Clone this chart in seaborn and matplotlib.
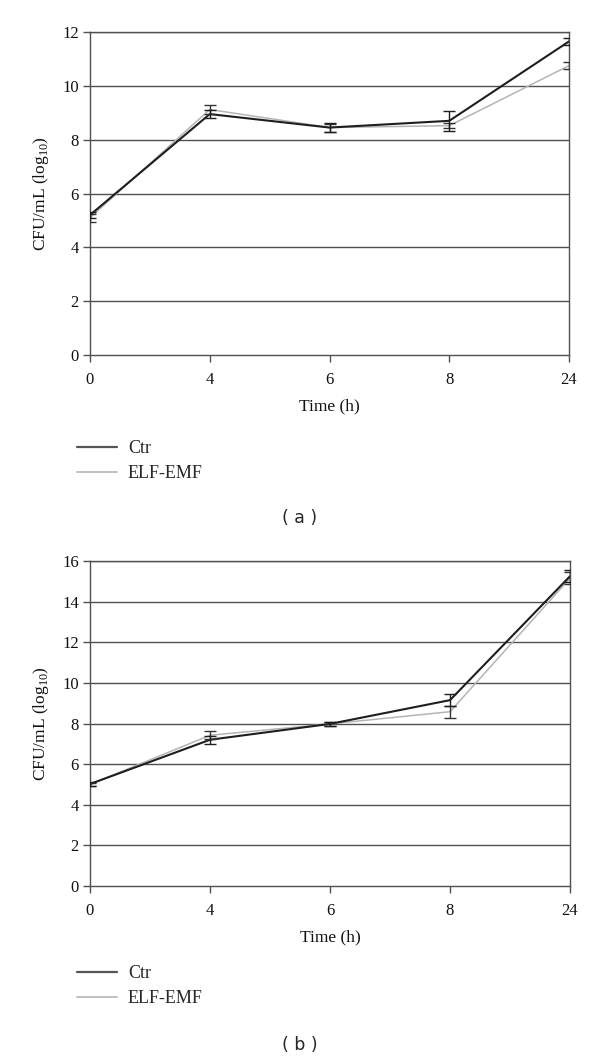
import numpy as np
import pandas as pd
import matplotlib
matplotlib.use("Agg")
import matplotlib.pyplot as plt
import seaborn as sns

sns.set_theme(style="white")
plt.rcParams['font.family'] = ['Liberation Serif', 'DejaVu Serif']
plt.rcParams['mathtext.fontset'] = 'custom'
plt.rcParams['mathtext.rm'] = 'Liberation Serif'

time_labels = ['0', '4', '6', '8', '24']
groups = ['Ctr', 'ELF-EMF']

# panel (a)
a_ctr = [5.2, 8.95, 8.45, 8.7, 11.65]
a_ctr_err = [0.1, 0.15, 0.18, 0.38, 0.12]
a_elf = [5.1, 9.12, 8.45, 8.52, 10.75]
a_elf_err = [0.15, 0.15, 0.15, 0.1, 0.12]

# panel (b)
b_ctr = [5.02, 7.2, 7.98, 9.15, 15.25]
b_ctr_err = [0.1, 0.2, 0.08, 0.3, 0.3]
b_elf = [5.0, 7.42, 7.98, 8.58, 15.15]
b_elf_err = [0.08, 0.2, 0.08, 0.3, 0.3]

line_colors = {'Ctr': '#1e1e1e', 'ELF-EMF': '#b4b4b4'}
grid_col = '#505050'


def draw_panel(ax, ctr, ctr_err, elf, elf_err, ymax):
    pos = np.arange(len(time_labels))
    df = pd.DataFrame({
        'pos': np.concatenate([pos, pos]),
        'value': ctr + elf,
        'group': ['Ctr'] * len(pos) + ['ELF-EMF'] * len(pos),
    })
    for yv in range(2, ymax + 1, 2):
        ax.axhline(yv, color=grid_col, lw=1.0, zorder=0)
    sns.lineplot(data=df, x='pos', y='value', hue='group', palette=line_colors,
                 hue_order=['ELF-EMF', 'Ctr'], ax=ax, legend=False, linewidth=1.3)
    for line, w in zip(ax.get_lines()[-2:], [1.1, 1.5]):
        line.set_linewidth(w)
    ax.errorbar(pos, elf, yerr=elf_err, fmt='none', ecolor='#333333',
                elinewidth=1.0, capsize=4, capthick=1.0, zorder=3)
    ax.errorbar(pos, ctr, yerr=ctr_err, fmt='none', ecolor='#1e1e1e',
                elinewidth=1.0, capsize=4, capthick=1.0, zorder=3)
    ax.set_xlim(0, len(time_labels) - 1)
    ax.set_ylim(0, ymax)
    ax.set_xticks(pos)
    ax.set_xticklabels(time_labels)
    ax.set_yticks(range(0, ymax + 1, 2))
    for s in ax.spines.values():
        s.set_color(grid_col)
        s.set_linewidth(1.0)
    ax.tick_params(axis='both', direction='out', length=5, width=1.0,
                   color=grid_col, labelsize=12, labelcolor='#111111', pad=3)
    ax.tick_params(axis='x', pad=7)
    ax.tick_params(left=True, bottom=True)
    ax.set_xlabel('Time (h)', fontsize=12.5, color='#111111', labelpad=8)
    ax.set_ylabel('CFU/mL (log$_{10}$)', fontsize=12.5, color='#111111', labelpad=8)


fig = plt.figure(figsize=(6, 10.6), dpi=100)
ax_a = fig.add_axes([90 / 600, 1 - 355 / 1060, 479 / 600, 323 / 1060])
ax_b = fig.add_axes([90 / 600, 1 - 886 / 1060, 480 / 600, 325 / 1060])

draw_panel(ax_a, a_ctr, a_ctr_err, a_elf, a_elf_err, 12)
draw_panel(ax_b, b_ctr, b_ctr_err, b_elf, b_elf_err, 16)

for ytop in [436 / 1060, 961 / 1060]:
    handles = [plt.Line2D([], [], color='#555555', lw=1.6),
               plt.Line2D([], [], color='#bbbbbb', lw=1.3)]
    fig.legend(handles, groups, loc='upper left',
               bbox_to_anchor=(70 / 600, 1 - ytop + 0.003), frameon=False,
               fontsize=13, handlelength=2.2, handletextpad=0.6,
               labelspacing=0.45, borderaxespad=0)

fig.text(0.5, 1 - 518 / 1060, '( a )', ha='center', va='center',
         fontsize=12.5, family='DejaVu Sans')
fig.text(0.5, 1 - 1045 / 1060, '( b )', ha='center', va='center',
         fontsize=12.5, family='DejaVu Sans')

fig.savefig('out.png', dpi=100)
